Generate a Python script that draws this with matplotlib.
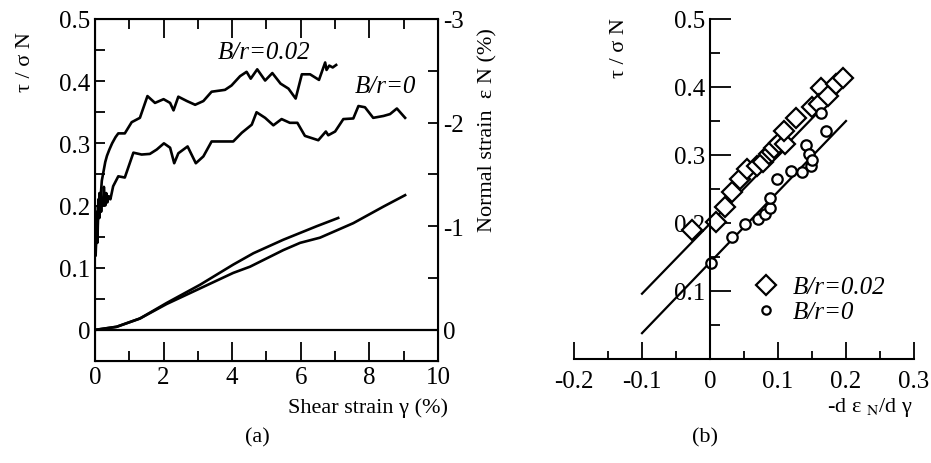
import matplotlib
matplotlib.use("Agg")
import matplotlib.pyplot as plt
import numpy as np

plt.rcParams['font.family'] = ['Liberation Serif', 'DejaVu Serif']
plt.rcParams['mathtext.fontset'] = 'stix'
plt.rcParams['axes.unicode_minus'] = False

# ---- panel (a): stress ratio vs shear strain ----
gam_02 = [0.02, 0.05, 0.07, 0.09, 0.11, 0.13, 0.16, 0.2, 0.25, 0.3, 0.35, 0.42, 0.5,
          0.6, 0.68, 0.87, 1.07, 1.31, 1.53, 1.75, 2.0, 2.19, 2.29, 2.43, 2.68, 2.92,
          3.16, 3.4, 3.79, 3.98, 4.23, 4.42, 4.54, 4.73, 4.96, 5.17, 5.41, 5.64, 5.85,
          6.03, 6.27, 6.53, 6.71, 6.75, 6.83, 6.93, 7.03]
tau_02 = [0.12, 0.17, 0.14, 0.2, 0.18, 0.22, 0.21, 0.24, 0.255, 0.27, 0.28, 0.29, 0.30,
          0.31, 0.316, 0.316, 0.334, 0.341, 0.376, 0.365, 0.371, 0.365, 0.353, 0.375,
          0.368, 0.362, 0.368, 0.383, 0.386, 0.393, 0.408, 0.415, 0.404, 0.419, 0.401,
          0.413, 0.396, 0.388, 0.372, 0.411, 0.411, 0.402, 0.43, 0.418, 0.425, 0.422, 0.426]

gam_0 = [0.02, 0.05, 0.08, 0.1, 0.13, 0.15, 0.18, 0.2, 0.23, 0.26, 0.3, 0.33, 0.36, 0.4,
         0.45, 0.53, 0.68, 0.87, 1.12, 1.36, 1.6, 1.8, 2.01, 2.19, 2.31, 2.43, 2.7, 2.94,
         3.16, 3.4, 4.03, 4.28, 4.57, 4.71, 4.96, 5.2, 5.44, 5.68, 5.9, 6.12, 6.51, 6.73,
         6.8, 7.0, 7.24, 7.53, 7.68, 7.87, 8.11, 8.41, 8.6, 8.8, 9.04]
tau_0 = [0.13, 0.19, 0.16, 0.21, 0.18, 0.22, 0.19, 0.21, 0.2, 0.23, 0.2, 0.22, 0.205,
         0.215, 0.21, 0.231, 0.247, 0.245, 0.285, 0.282, 0.283, 0.29, 0.3, 0.293, 0.268,
         0.284, 0.295, 0.268, 0.279, 0.303, 0.303, 0.317, 0.33, 0.35, 0.341, 0.329, 0.339,
         0.333, 0.333, 0.312, 0.305, 0.319, 0.313, 0.319, 0.339, 0.34, 0.36, 0.358, 0.341,
         0.344, 0.347, 0.356, 0.341]

# normal strain (%) on the right axis
gam_eps_02 = [0.0, 0.63, 1.31, 2.09, 3.06, 4.03, 4.62, 5.49, 6.46, 7.09]
eps_02 = [0.0, -0.03, -0.11, -0.26, -0.435, -0.63, -0.74, -0.87, -1.0, -1.08]
gam_eps_0 = [0.0, 0.63, 1.31, 2.09, 3.06, 4.03, 4.52, 5.49, 5.98, 6.56, 7.53, 8.41, 9.04]
eps_0 = [0.0, -0.03, -0.11, -0.25, -0.40, -0.55, -0.61, -0.77, -0.84, -0.89, -1.03, -1.19, -1.30]

# ---- panel (b): stress ratio vs dilatancy rate ----
dil_02 = [-0.026, 0.009, 0.022, 0.033, 0.044, 0.055, 0.069, 0.078, 0.087, 0.091, 0.094,
          0.101, 0.111, 0.109, 0.126, 0.150, 0.163, 0.160, 0.173, 0.185, 0.195]
str_02 = [0.19, 0.201, 0.223, 0.246, 0.265, 0.279, 0.284, 0.29, 0.301, 0.305, 0.311,
          0.318, 0.316, 0.335, 0.354, 0.37, 0.399, 0.375, 0.387, 0.404, 0.413]
dil_0 = [0.001, 0.033, 0.052, 0.070, 0.081, 0.088, 0.088, 0.099, 0.119, 0.136, 0.141,
         0.145, 0.148, 0.150, 0.163, 0.170]
str_0 = [0.141, 0.18, 0.199, 0.206, 0.213, 0.222, 0.237, 0.264, 0.276, 0.275, 0.314,
         0.302, 0.284, 0.292, 0.362, 0.335]

fit_x = [-0.1, 0.19]
fit_02 = [0.096, 0.395]
fit_x0 = [-0.1, 0.2]
fit_0 = [0.038, 0.35]

fig = plt.figure(figsize=(9.31, 4.64), dpi=100)

# ---------- (a) ----------
ax = fig.add_axes([0.102, 0.2198, 0.3685, 0.7372])
ax.plot(gam_02, tau_02, color='black', lw=1.9)
ax.plot(gam_0, tau_0, color='black', lw=1.9)
ax.axhline(0, color='black', lw=1.6)
ax.set_xlim(0, 10)
ax.set_ylim(-0.05, 0.5)
ax.set_xticks([0, 2, 4, 6, 8, 10])
ax.set_xticks(np.arange(1, 10, 2), minor=True)
ax.set_yticks([0, 0.1, 0.2, 0.3, 0.4, 0.5])
ax.set_yticklabels(['0', '0.1', '0.2', '0.3', '0.4', '0.5'])
ax.set_yticks(np.arange(-0.05, 0.5, 0.1), minor=True)
ax.tick_params(which='both', direction='in', top=True, labelsize=18, width=1.3)
ax.tick_params(axis='x', which='major', length=14)
ax.tick_params(axis='x', which='minor', length=7)
ax.tick_params(axis='y', which='both', length=7, right=False)
for s in ax.spines.values():
    s.set_linewidth(1.5)

axr = ax.twinx()
axr.plot(gam_eps_02, eps_02, color='black', lw=1.9)
axr.plot(gam_eps_0, eps_0, color='black', lw=1.9)
axr.set_ylim(0.3, -3)
axr.set_yticks([0, -1, -2, -3])
axr.set_yticks([-0.5, -1.5, -2.5], minor=True)
axr.tick_params(which='both', direction='in', length=7, labelsize=18, width=1.3)
axr.set_xlim(0, 10)

fig.text(25 / 931, 1 - 62 / 464, 'τ / σ N', rotation=90, fontsize=16,
         ha='center', va='center')
fig.text(488 / 931, 1 - 130 / 464, 'Normal strain  ε N (%)', rotation=90,
         fontsize=16, ha='center', va='center')
fig.text(448 / 931, 1 - 408 / 464, 'Shear strain γ (%)', fontsize=16,
         ha='right', va='center')
ax.text(3.59, 0.447, 'B/r=0.02', fontsize=18, style='italic', va='center')
ax.text(7.58, 0.392, 'B/r=0', fontsize=18, style='italic', va='center')
fig.text(257 / 931, 1 - 438 / 464, '(a)', fontsize=16, ha='center', va='center')

# ---------- (b) ----------
bx = fig.add_axes([574 / 931, 1 - 360 / 464, 340 / 931, 340 / 464])
bx.plot(fit_x, fit_02, color='black', lw=1.6)
bx.plot(fit_x0, fit_0, color='black', lw=1.6)
bx.plot(dil_02, str_02, 'D', ms=10, mfc='white', mec='black', mew=1.6,
        label='B/r=0.02', clip_on=False)
bx.plot(dil_0, str_0, 'o', ms=7.5, mfc='white', mec='black', mew=1.6,
        label='B/r=0', clip_on=False)
bx.set_xlim(-0.2, 0.3)
bx.set_ylim(0, 0.5)
bx.spines['left'].set_position(('data', 0))
bx.spines['top'].set_visible(False)
bx.spines['right'].set_visible(False)
bx.spines['left'].set_linewidth(1.5)
bx.spines['bottom'].set_linewidth(1.5)
bx.set_xticks([-0.2, -0.1, 0, 0.1, 0.2, 0.3])
bx.set_xticklabels(['-0.2', '-0.1', '0', '0.1', '0.2', '0.3'])
bx.set_xticks(np.arange(-0.15, 0.3, 0.1), minor=True)
bx.set_yticks([0.1, 0.2, 0.3, 0.4, 0.5])
bx.set_yticks(np.arange(0.05, 0.5, 0.1), minor=True)
bx.tick_params(axis='x', which='major', direction='in', length=12, width=1.3,
               labelsize=18, pad=8)
bx.tick_params(axis='x', which='minor', direction='in', length=6, width=1.3)
bx.tick_params(axis='y', which='major', direction='in', length=15, width=1.3,
               labelsize=18)
bx.tick_params(axis='y', which='minor', direction='in', length=7, width=1.3)
leg = bx.legend(loc='center left', bbox_to_anchor=(0.49, 0.175), frameon=False,
                handlelength=1.0, handletextpad=0.6, labelspacing=0.1,
                borderpad=0, prop={'style': 'italic', 'size': 18})
leg.legend_handles[1].set_markersize(6)
fig.text(620 / 931, 1 - 48 / 464, 'τ / σ N', rotation=90, fontsize=16,
         ha='center', va='center')
fig.text(913 / 931, 1 - 408 / 464, '-d ε $_{\\mathrm{N}}$/d γ', fontsize=16,
         ha='right', va='center')
fig.text(705 / 931, 1 - 438 / 464, '(b)', fontsize=16, ha='center', va='center')

fig.savefig('out.png', dpi=100)
